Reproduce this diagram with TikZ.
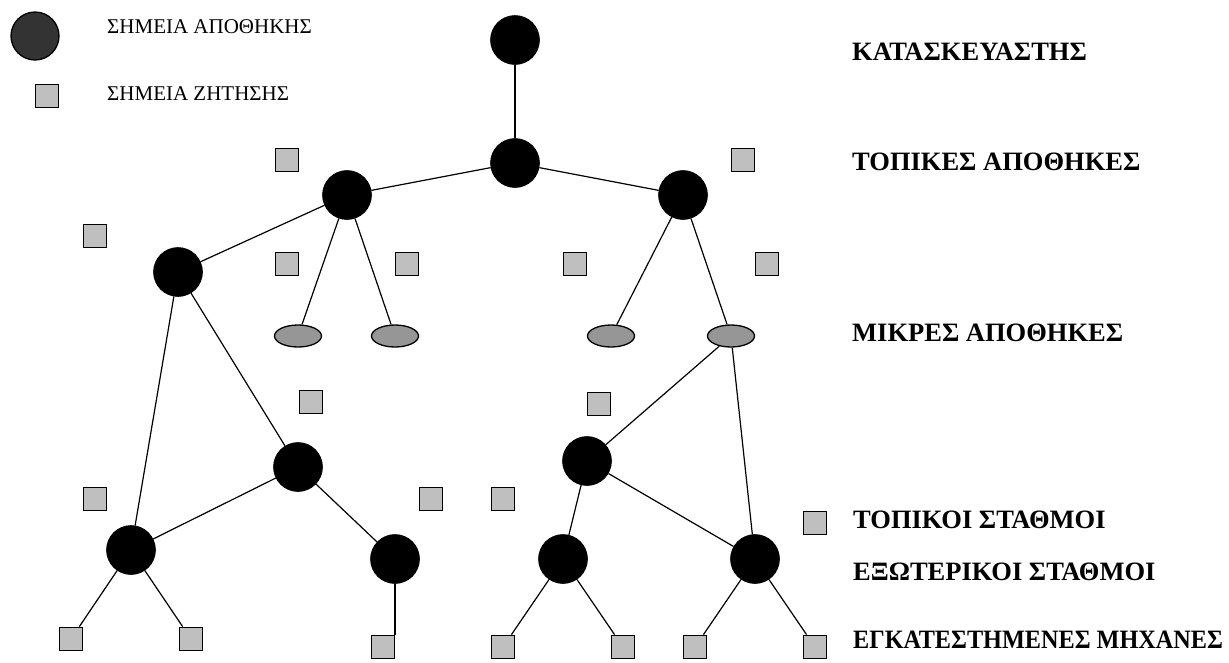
\documentclass[tikz,border=0pt]{standalone}
\usepackage{fontspec}
\setmainfont{Liberation Serif}
\usetikzlibrary{shapes.geometric}
\begin{document}
\begin{tikzpicture}[x=1pt,y=-1pt,
  depot/.style={circle,fill=black,draw=black,line width=0.6pt,minimum size=49pt,inner sep=0pt},
  legdepot/.style={circle,fill=black!80,draw=black,line width=1.3pt,minimum size=48pt,inner sep=0pt},
  demand/.style={rectangle,fill=black!25,draw=black,line width=1.3pt,minimum size=23.5pt,inner sep=0pt},
  small/.style={ellipse,fill=black!41,draw=black,line width=1.3pt,minimum width=47pt,minimum height=22pt,inner sep=0pt},
  legtext/.style={anchor=base west,inner sep=0pt,font=\fontsize{21}{25}\selectfont},
  leveltext/.style={anchor=base west,inner sep=0pt,font=\fontsize{26.5}{30}\selectfont\bfseries},
  link/.style={line width=1.2pt}]
\useasboundingbox (0,0) rectangle (1229,662);

% legend
\node[legdepot] (legc) at (35,36) {};
\node[legtext] (legct) at (107,33) {ΣΗΜΕΙΑ ΑΠΟΘΗΚΗΣ};
\node[demand] (legs) at (47,96) {};
\node[legtext] (legst) at (107,100) {ΣΗΜΕΙΑ ΖΗΤΗΣΗΣ};

% level labels
\node[leveltext] (lv1) at (852,60) {ΚΑΤΑΣΚΕΥΑΣΤΗΣ};
\node[leveltext] (lv2) at (852,170) {ΤΟΠΙΚΕΣ ΑΠΟΘΗΚΕΣ};
\node[leveltext] (lv3) at (852,341) {ΜΙΚΡΕΣ ΑΠΟΘΗΚΕΣ};
\node[leveltext] (lv4) at (853,528) {ΤΟΠΙΚΟΙ ΣΤΑΘΜΟΙ};
\node[leveltext] (lv5) at (853,580) {ΕΞΩΤΕΡΙΚΟΙ ΣΤΑΘΜΟΙ};
\node[leveltext] (lv6) at (853,648) {\scalebox{0.915}[1]{ΕΓΚΑΤΕΣΤΗΜΕΝΕΣ ΜΗΧΑΝΕΣ}};

% depots
\node[depot] (top) at (515,40) {};
\node[depot] (hub) at (515,163) {};
\node[depot] (l1) at (347,195) {};
\node[depot] (r1) at (683,195) {};
\node[depot] (l2) at (178,272) {};
\node[depot] (c2) at (298,467) {};
\node[depot] (m) at (587,461) {};
\node[depot] (c1) at (131,550) {};
\node[depot] (c3) at (395,559) {};
\node[depot] (c4) at (563,559) {};
\node[depot] (c5) at (755,559) {};

% small depots
\node[small] (e1) at (298,336) {};
\node[small] (e2) at (395,336) {};
\node[small] (e3) at (611,336) {};
\node[small] (e4) at (731,336) {};

% demand points
\node[demand] (s1) at (287,160) {};
\node[demand] (s2) at (743,160) {};
\node[demand] (s3) at (95,236) {};
\node[demand] (s4) at (287,264) {};
\node[demand] (s5) at (407,264) {};
\node[demand] (s6) at (575,264) {};
\node[demand] (s7) at (767,264) {};
\node[demand] (s8) at (311,402) {};
\node[demand] (s9) at (599,404) {};
\node[demand] (s10) at (95,499) {};
\node[demand] (s11) at (431,499) {};
\node[demand] (s12) at (503,499) {};
\node[demand] (s13) at (815,523) {};
\node[demand] (b1) at (71,639) {};
\node[demand] (b2) at (191,639) {};
\node[demand] (b3) at (383,647) {};
\node[demand] (b4) at (503,647) {};
\node[demand] (b5) at (623,647) {};
\node[demand] (b6) at (695,647) {};
\node[demand] (b7) at (815,647) {};

% links
\draw[link] (top) -- (hub);
\draw[link] (hub) -- (l1);
\draw[link] (hub) -- (r1);
\draw[link] (l1) -- (l2);
\draw[link] (l1) -- (e1);
\draw[link] (l1) -- (e2);
\draw[link] (r1) -- (e3);
\draw[link] (r1) -- (e4);
\draw[link] (l2) -- (c1);
\draw[link] (l2) -- (c2);
\draw[link] (c2) -- (c1);
\draw[link] (c2) -- (c3);
\draw[link] (e4) -- (m);
\draw[link] (e4) -- (c5);
\draw[link] (m) -- (c4);
\draw[link] (m) -- (c5);
\draw[link] (c1) -- (b1);
\draw[link] (c1) -- (b2);
\draw[link] (c3) -- (c3 |- b3.north);
\draw[link] (c4) -- (b4);
\draw[link] (c4) -- (b5);
\draw[link] (c5) -- (b6);
\draw[link] (c5) -- (b7);
\end{tikzpicture}
\end{document}
